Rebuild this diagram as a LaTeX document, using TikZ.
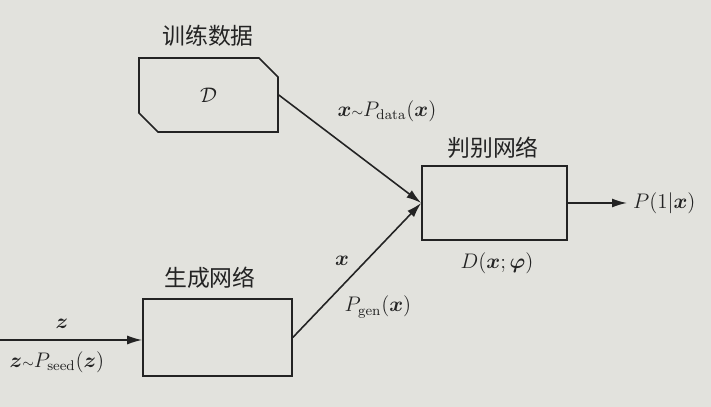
\documentclass[tikz,border=0pt]{standalone}
\usepackage{fontspec}
\usepackage{amsmath}
\newfontfamily\cjk{Noto Sans CJK SC}
\usetikzlibrary{shapes.misc, arrows.meta}
\definecolor{paper}{RGB}{226,226,221}
\definecolor{ink}{RGB}{35,35,35}
\tikzset{box/.style={draw=ink,line width=0.9pt,minimum width=2.9cm,minimum height=1.5cm},
         databox/.style={box,chamfered rectangle,chamfered rectangle corners={north east,south west},
                         chamfered rectangle xsep=0.19cm,chamfered rectangle ysep=0.19cm},
         title/.style={font=\cjk\fontsize{13}{15}\selectfont,text=ink},
         lbl/.style={font=\fontsize{12}{14}\selectfont,text=ink},
         flow/.style={draw=ink,line width=0.9pt,-{Latex[length=3mm,width=1.8mm]}},
        }

\begin{document}
\begin{tikzpicture}
        \useasboundingbox (0,0) rectangle (14.22,8.14);
        \fill[paper] (0,0) rectangle (14.22,8.14);

        \node[databox, minimum width=2.78cm, minimum height=1.48cm, lbl](data)at(4.17,6.24){$\mathcal{D}$};
        \node[box, minimum width=2.98cm, minimum height=1.54cm](gen)at(4.35,1.39){};
        \node[box, minimum width=2.9cm, minimum height=1.48cm](disc)at(9.89,4.08){};

        \node[title](tdata)at(4.16,7.42){训练数据};
        \node[title](tgen)at(4.2,2.58){生成网络};
        \node[title](tdisc)at(9.86,5.18){判别网络};

        \node[lbl](ldisc)at(9.94,2.88){$D(\boldsymbol{x};\boldsymbol{\varphi})$};
        \node[lbl, anchor=west](pout)at(12.54,4.08){$P(1|\boldsymbol{x})$};
        \coordinate(zin)at(0,1.34);

        \node[lbl](lz)at(1.24,1.66){$\boldsymbol{z}$};
        \node[lbl](lseed)at(1.14,0.9){$\boldsymbol{z}{\scriptstyle\sim}P_{\mathrm{seed}}(\boldsymbol{z})$};
        \node[lbl](ldata)at(7.74,5.92){$\boldsymbol{x}{\scriptstyle\sim}P_{\mathrm{data}}(\boldsymbol{x})$};
        \node[lbl](lx)at(6.84,2.92){$\boldsymbol{x}$};
        \node[lbl](lgen)at(7.56,2.0){$P_{\mathrm{gen}}(\boldsymbol{x})$};

        \draw[flow](zin)--(zin-|gen.west);
        \draw[flow](data.east)--(disc.west);
        \draw[flow](gen.east)--(disc.west);
        \draw[flow](disc.east)--(pout.west);
    \end{tikzpicture}
\end{document}
